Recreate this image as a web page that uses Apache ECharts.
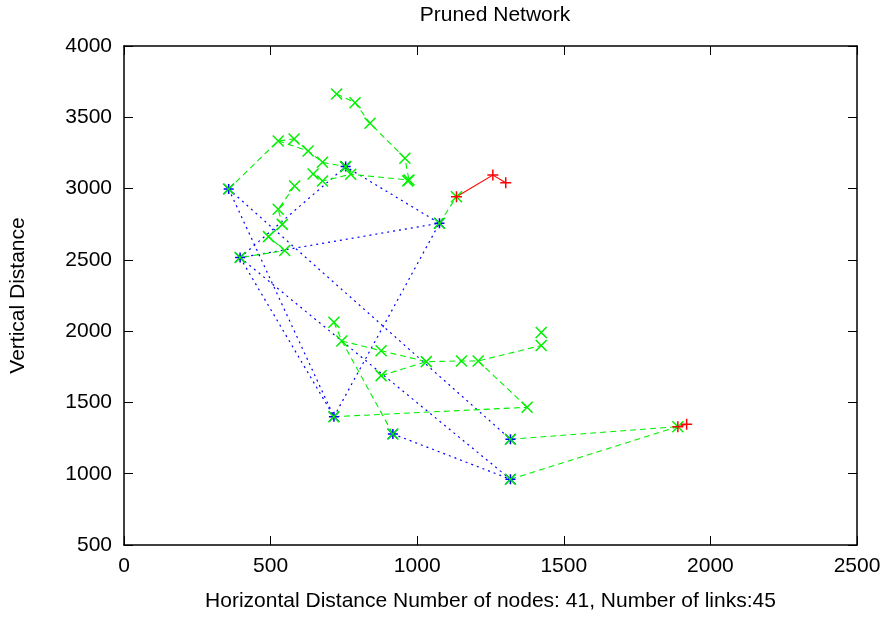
<!DOCTYPE html>
<html>
<head>
<meta charset="utf-8">
<script src="https://cdn.jsdelivr.net/npm/echarts@6/dist/echarts.min.js"></script>
<style>
html,body{margin:0;padding:0;background:#fff;}
#chart{width:891px;height:617px;}
</style>
</head>
<body>
<div id="chart"></div>
<script>
// ---- axis settings ----
const xMin = 0, xMax = 2500, xStep = 500;
const yMin = 500, yMax = 4000, yStep = 500;

// ---- nodes ----
const greenNodes = [
  [725,3663],[788,3602],[839,3458],[958,3213],[972,3060],[968,3054],
  [526,3334],[580,3348],[628,3264],[677,3184],[645,3102],[677,3053],[773,3100],
  [582,3018],[526,2855],[540,2749],[493,2663],[548,2565],
  [1134,2943],
  [716,2062],[743,1931],[877,1863],[877,1688],[1031,1786],[1151,1791],[1208,1791],
  [1423,1990],[1423,1899],[1375,1466],[1889,1330],
  [357,2997],[396,2516],[756,3154],[1076,2757],[716,1400],[917,1279],[1318,1242],[1318,961]
];
const blueNodes = [
  [357,2997],[396,2516],[756,3154],[1076,2757],[716,1400],[917,1279],[1318,1242],[1318,961]
];
const redNodes = [
  [1134,2943],[1258,3095],[1302,3041],[1889,1330],[1919,1347]
];

// ---- links (polylines through the nodes) ----
const greenPaths = [
  [[725,3663],[788,3602],[839,3458],[958,3213],[972,3060]],
  [[357,2997],[526,3334],[580,3348]],
  [[526,3334],[628,3264],[677,3184],[756,3154],[773,3100],[972,3060]],
  [[580,3348],[628,3264]],
  [[645,3102],[677,3053],[773,3100]],
  [[582,3018],[526,2855],[540,2749],[493,2663],[548,2565],[396,2516]],
  [[1076,2757],[1134,2943]],
  [[716,2062],[743,1931],[917,1279]],
  [[743,1931],[877,1863],[1031,1786],[1151,1791],[1208,1791],[1423,1899]],
  [[877,1688],[1031,1786]],
  [[1208,1791],[1375,1466]],
  [[716,1400],[1375,1466]],
  [[1318,1242],[1889,1330]],
  [[1318,961],[1889,1330]]
];
const bluePaths = [
  [[357,2997],[716,1400]],
  [[357,2997],[1318,1242]],
  [[396,2516],[716,1400]],
  [[396,2516],[1318,961]],
  [[396,2516],[756,3154],[1076,2757],[396,2516]],
  [[716,1400],[1076,2757]],
  [[917,1279],[1318,961]]
];
const redPaths = [
  [[1134,2943],[1258,3095],[1302,3041]],
  [[1889,1330],[1919,1347]]
];

const GREEN = '#00f000', BLUE = '#0000ff', RED = '#ff0000';
const FONT = '"Liberation Sans", Arial, Helvetica, sans-serif';
const FS = 21;

const symX = 'path://M0,0L10,10M10,0L0,10';
const symPlus = 'path://M5,0L5,10M0,5L10,5';
const symStar = 'path://M0,0L10,10M10,0L0,10M5,0L5,10M0,5L10,5';

function linesSeries(paths, color, type, width) {
  return {
    type: 'lines', coordinateSystem: 'cartesian2d', polyline: true,
    silent: true, animation: false,
    lineStyle: { color: color, width: width, type: type, opacity: 1 },
    data: paths.map(p => ({ coords: p }))
  };
}
function pointSeries(data, sym, color, size, z) {
  return {
    type: 'scatter', data: data, symbol: sym, symbolSize: size, silent: true, z: z,
    animation: false,
    itemStyle: { color: 'rgba(0,0,0,0)', borderColor: color, borderWidth: 1.5, opacity: 1 }
  };
}

const axisLineStyle = { show: true, onZero: false, lineStyle: { color: '#000', width: 1.5 } };
const tickStyle = { show: true, inside: true, length: 9, lineStyle: { color: '#000', width: 1 } };
const plain = v => String(v);

const chart = echarts.init(document.getElementById('chart'), null, { renderer: 'canvas' });
chart.setOption({
  animation: false,
  backgroundColor: '#fff',
  title: {
    text: 'Pruned Network', left: 490, top: 0, textAlign: 'center',
    textStyle: { fontFamily: FONT, fontSize: FS, fontWeight: 'normal', color: '#000' }
  },
  grid: { left: 123, right: 34, top: 46, bottom: 72, containLabel: false },
  xAxis: [
    {
      type: 'value', min: xMin, max: xMax, interval: xStep, position: 'bottom',
      axisLine: axisLineStyle, axisTick: tickStyle, splitLine: { show: false },
      axisLabel: { fontFamily: FONT, fontSize: FS, color: '#000', margin: 11, formatter: plain },
      name: 'Horizontal Distance Number of nodes: 41, Number of links:45',
      nameLocation: 'middle', nameGap: 46, nameMoveOverlap: false,
      nameTextStyle: { fontFamily: FONT, fontSize: FS, color: '#000' }
    },
    {
      type: 'value', min: xMin, max: xMax, interval: xStep, position: 'top',
      axisLine: axisLineStyle, axisTick: tickStyle, splitLine: { show: false },
      axisLabel: { show: false }
    }
  ],
  yAxis: [
    {
      type: 'value', min: yMin, max: yMax, interval: yStep, position: 'left',
      axisLine: axisLineStyle, axisTick: tickStyle, splitLine: { show: false },
      axisLabel: { fontFamily: FONT, fontSize: FS, color: '#000', margin: 12, formatter: plain },
      name: 'Vertical Distance', nameLocation: 'middle', nameGap: 95, nameRotate: 90,
      nameTextStyle: { fontFamily: FONT, fontSize: FS, color: '#000' }
    },
    {
      type: 'value', min: yMin, max: yMax, interval: yStep, position: 'right',
      axisLine: axisLineStyle, axisTick: tickStyle, splitLine: { show: false },
      axisLabel: { show: false }
    }
  ],
  series: [
    linesSeries(bluePaths, BLUE, [2, 4], 1.2),
    linesSeries(greenPaths, GREEN, [6, 4], 1.1),
    linesSeries(redPaths, RED, 'solid', 1.1),
    pointSeries(blueNodes, symStar, BLUE, 10, 3),
    pointSeries(greenNodes, symX, GREEN, 11, 4),
    pointSeries(redNodes, symPlus, RED, 11, 5)
  ]
});
</script>
</body>
</html>
